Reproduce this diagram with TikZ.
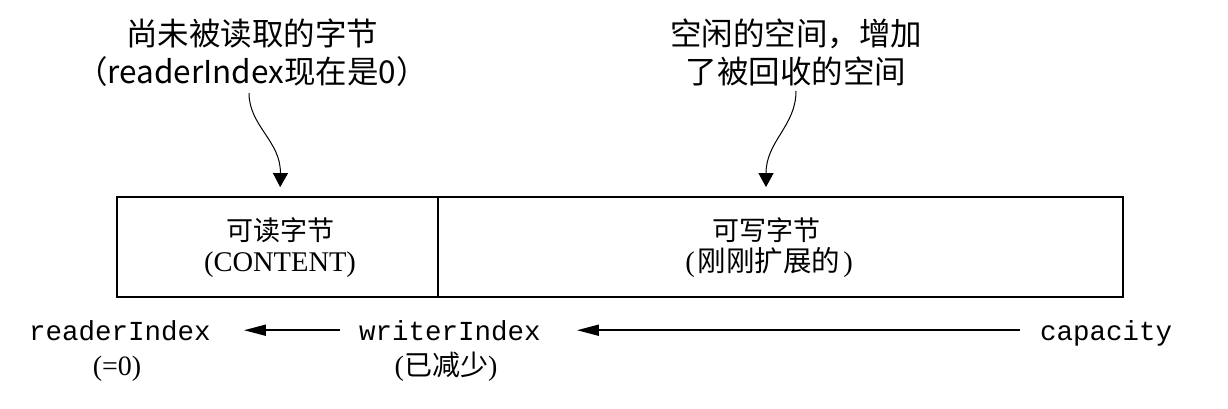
\documentclass[tikz,border=0pt]{standalone}
\usepackage{fontspec}
\setmainfont{Liberation Serif}
\newfontfamily\cjksans{Noto Sans CJK SC}
\newfontfamily\monofont{Liberation Mono}
\usetikzlibrary{arrows.meta}
\newcommand{\zhs}[1]{{\cjksans #1}}
\begin{document}
\begin{tikzpicture}[x=1pt,y=-1pt,
  note/.style={font=\cjksans\fontsize{31.5}{38}\selectfont, inner sep=0pt, anchor=base},
  cell/.style={draw, line width=1.8pt, minimum height=100pt, inner sep=0pt},
  celltext/.style={font=\fontsize{27}{32}\selectfont, inner sep=0pt, anchor=base},
  celltextb/.style={font=\fontsize{28.5}{32}\selectfont, inner sep=0pt, anchor=base},
  code/.style={font=\monofont\fontsize{27.5}{33}\selectfont, inner sep=0pt, anchor=base},
  sub/.style={font=\fontsize{28}{33}\selectfont, inner sep=0pt, anchor=base},
  curvearrow/.style={line width=1pt, -{Triangle[width=15pt,length=14pt]}},
  ptr/.style={line width=1.8pt, -{Triangle[width=11pt,length=22pt]}}
]
\useasboundingbox (0,0) rectangle (1228,408);

% buffer cells
\node[cell, minimum width=321pt] (lcell) at (277.5,247) {};
\node[cell, minimum width=685pt] (rcell) at (780.5,247) {};

\node[celltext] (l1) at (280,240) {\zhs{可读字节}};
\node[celltextb] (l2) at (280,271) {(CONTENT)};
\node[celltext] (r1) at (766,240) {\zhs{可写字节}};
\node[celltextb] (r2) at (769,271) {(\hspace{3pt}\zhs{刚刚扩展的}\hspace{3pt})};

% top notes
\node[note] (t1a) at (252,45) {尚未被读取的字节};
\node[note] (t1b) at (252,83) {（readerIndex现在是0）};
\node[note] (t2a) at (796,45) {空闲的空间，增加};
\node[note] (t2b) at (796,83) {了被回收的空间};

\coordinate (c1) at (249,93);
\coordinate (c2) at (796,91);
\draw[curvearrow, shorten >=9pt] (c1) .. controls +(0,33) and +(1,-55) .. ([xshift=2.5pt]lcell.north);
\draw[curvearrow, shorten >=9pt] (c2) .. controls +(0,35) and +(0,-55) .. ([xshift=-14.5pt]rcell.north);

% indices
\node[code] (ri) at (120,340) {readerIndex};
\node[sub] (rz) at (117,375) {(=0)};
\node[code] (wi) at (450,340) {writerIndex};
\node[sub] (wd) at (446,375) {(\zhs{已减少})};
\node[code] (cap) at (1106,340) {capacity};

\draw[ptr, shorten <=19pt, shorten >=33pt] (wi.west) -- (ri.east);
\draw[ptr, shorten <=20pt, shorten >=36pt] (cap.west |- wi.west) -- (wi.east);
\end{tikzpicture}
\end{document}
